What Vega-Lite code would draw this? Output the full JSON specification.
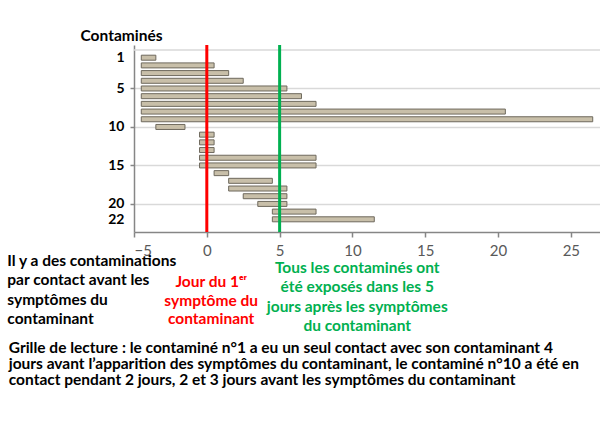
{
  "$schema": "https://vega.github.io/schema/vega-lite/v6.json",
  "width": 466,
  "height": 187,
  "autosize": {"type": "none"},
  "padding": {"left": 134, "top": 45, "right": 0, "bottom": 189},
  "background": "white",
  "config": {"view": {"stroke": null}, "font": "Lato"},
  "data": {"values": [
    {"contamine": 1, "debut": -4.5, "fin": -3.5},
    {"contamine": 2, "debut": -4.5, "fin": 0.5},
    {"contamine": 3, "debut": -4.5, "fin": 1.5},
    {"contamine": 4, "debut": -4.5, "fin": 2.5},
    {"contamine": 5, "debut": -4.5, "fin": 5.5},
    {"contamine": 6, "debut": -4.5, "fin": 6.5},
    {"contamine": 7, "debut": -4.5, "fin": 7.5},
    {"contamine": 8, "debut": -4.5, "fin": 20.5},
    {"contamine": 9, "debut": -4.5, "fin": 26.5},
    {"contamine": 10, "debut": -3.5, "fin": -1.5},
    {"contamine": 11, "debut": -0.5, "fin": 0.5},
    {"contamine": 12, "debut": -0.5, "fin": 0.5},
    {"contamine": 13, "debut": -0.5, "fin": 0.5},
    {"contamine": 14, "debut": -0.5, "fin": 7.5},
    {"contamine": 15, "debut": -0.5, "fin": 7.5},
    {"contamine": 16, "debut": 0.5, "fin": 1.5},
    {"contamine": 17, "debut": 1.5, "fin": 4.5},
    {"contamine": 18, "debut": 1.5, "fin": 5.5},
    {"contamine": 19, "debut": 2.5, "fin": 5.5},
    {"contamine": 20, "debut": 3.5, "fin": 5.5},
    {"contamine": 21, "debut": 4.5, "fin": 7.5},
    {"contamine": 22, "debut": 4.5, "fin": 11.5}
  ]},
  "layer": [
    {
      "mark": {"type": "bar", "size": 5, "fill": "#c8bfa9", "stroke": "#6e695d", "strokeWidth": 1},
      "encoding": {
        "x": {
          "field": "debut", "type": "quantitative",
          "scale": {"domain": [-5, 27], "nice": false, "zero": false},
          "axis": {
            "values": [-5, 0, 5, 10, 15, 20, 25], "tickCount": 20, "grid": false, "title": null,
            "domainColor": "#868686", "domainWidth": 1.5, "tickColor": "#868686", "tickSize": 5, "tickWidth": 1.5,
            "labelColor": "#595959", "labelFont": "Lato", "labelFontSize": 15, "labelPadding": 6, "labelOverlap": false
          }
        },
        "x2": {"field": "fin"},
        "y": {
          "field": "contamine", "type": "quantitative",
          "scale": {"domain": [0, 23], "reverse": true, "nice": false, "zero": false},
          "axis": {
            "values": [1, 5, 10, 15, 20, 22],
            "tickCount": 30,
            "labelOverlap": false,
            "title": "Contaminés", "titleAngle": 0, "titleAlign": "left", "titleBaseline": "middle",
            "titleX": -54, "titleY": -10, "titleFont": "Lato", "titleFontSize": 15.5, "titleFontWeight": "bold", "titleColor": "#000000",
            "grid": true, "gridColor": "#d9d9d9", "gridWidth": 1.5,
            "gridOpacity": {"condition": {"test": "datum.value == 1 || datum.value == 22", "value": 0}, "value": 1},
            "domainColor": "#868686", "domainWidth": 1.5,
            "tickColor": "#868686", "tickSize": 4, "tickWidth": 1.5,
            "tickOpacity": {"condition": {"test": "datum.value == 1 || datum.value == 22", "value": 0}, "value": 1},
            "labelColor": "#000000", "labelFont": "Lato", "labelFontSize": 14, "labelFontWeight": "bold", "labelPadding": 6
          }
        }
      }
    },
    {
      "data": {"values": [{}]},
      "mark": {"type": "rule", "color": "#d9d9d9", "strokeWidth": 1.5},
      "encoding": {"y": {"datum": 0}}
    },
    {
      "data": {"values": [{}]},
      "mark": {"type": "rule", "color": "#ff0000", "strokeWidth": 3},
      "encoding": {"x": {"datum": 0}}
    },
    {
      "data": {"values": [{}]},
      "mark": {"type": "rule", "color": "#00b050", "strokeWidth": 3},
      "encoding": {"x": {"datum": 5}}
    },
    {
      "data": {"values": [{}]},
      "mark": {"type": "text", "align": "left", "baseline": "top", "font": "Lato", "fontSize": 15.5, "fontWeight": "bold", "color": "#000000", "lineHeight": 19.5,
        "text": ["Il y a des contaminations", "par contact avant les", "symptômes du", "contaminant"]},
      "encoding": {"x": {"datum": -13.7}, "y": {"datum": 26.5}}
    },
    {
      "data": {"values": [{}]},
      "mark": {"type": "text", "align": "center", "baseline": "top", "font": "Lato", "fontSize": 15.5, "fontWeight": "bold", "color": "#ff0000", "lineHeight": 18.5,
        "text": ["Jour du 1ᵉʳ", "symptôme du", "contaminant"]},
      "encoding": {"x": {"datum": 0.3}, "y": {"datum": 29.3}}
    },
    {
      "data": {"values": [{}]},
      "mark": {"type": "text", "align": "center", "baseline": "top", "font": "Lato", "fontSize": 15.5, "fontWeight": "bold", "color": "#00b050", "lineHeight": 19.5,
        "text": ["Tous les contaminés ont", "été exposés dans les 5", "jours après les symptômes", "du contaminant"]},
      "encoding": {"x": {"datum": 10.33}, "y": {"datum": 27.4}}
    },
    {
      "data": {"values": [{}]},
      "mark": {"type": "text", "align": "left", "baseline": "top", "font": "Lato", "fontSize": 15.5, "fontWeight": "bold", "color": "#000000", "lineHeight": 16.3,
        "text": ["Grille de lecture : le contaminé n°1 a eu un seul contact avec son contaminant 4", "jours avant l’apparition des symptômes du contaminant, le contaminé n°10 a été en", "contact pendant 2 jours, 2 et 3 jours avant les symptômes du contaminant"]},
      "encoding": {"x": {"datum": -13.6}, "y": {"datum": 37.8}}
    }
  ]
}
